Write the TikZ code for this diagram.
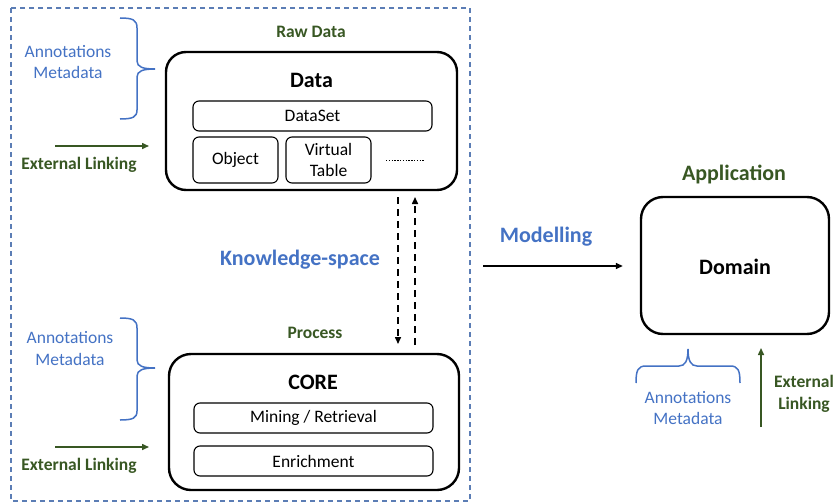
\documentclass[tikz,border=0pt]{standalone}
\usepackage{fontspec}
\setmainfont{Carlito}
\usetikzlibrary{arrows.meta}
\definecolor{ablue}{HTML}{4472C4}
\definecolor{agreen}{HTML}{385723}
\definecolor{bordercol}{HTML}{5B7DB5}
\tikzset{
  bigbox/.style={draw=black, line width=2.4pt, rounded corners=20pt},
  smallbox/.style={draw=black, line width=1.1pt, rounded corners=6pt, align=center, font=\fontsize{17.5}{19}\selectfont},
  bluetxt/.style={text=ablue, align=center, font=\fontsize{17.5}{21.5}\selectfont},
  greentxt/.style={text=agreen, align=center, font=\bfseries\fontsize{17.5}{21.5}\selectfont},
  headtxt/.style={font=\bfseries\fontsize{22}{26}\selectfont},
  bracecol/.style={draw=ablue, line width=1.5pt},
  greenarrow/.style={draw=agreen, line width=1.5pt, -{Triangle[length=7pt,width=6pt]}},
  dasharrow/.style={draw=black, line width=1.5pt, dash pattern=on 7pt off 5pt, -{Triangle[length=7pt,width=6pt]}},
}
\begin{document}
\begin{tikzpicture}[x=1pt,y=-1pt]
\useasboundingbox (0,0) rectangle (837,503);
% outer dashed frame
\draw[bordercol, line width=1.3pt, dash pattern=on 5pt off 4pt] (11,8) rectangle (470,501);

% Data block
\node[bigbox, minimum width=291pt, minimum height=138pt] (data) at (311.5,121) {};
\node[headtxt] (datat) at (311.5,80) {Data};
\node[smallbox, minimum width=239pt, minimum height=30pt] (dataset) at (312.5,116) {DataSet};
\node[smallbox, minimum width=85pt, minimum height=46pt] (object) at (235.5,160) {Object};
\node[smallbox, minimum width=85pt, minimum height=46pt, font=\fontsize{17.5}{21}\selectfont] (vtable) at (328.5,160) {Virtual\\Table};
\coordinate (dots1) at (386,160);
\coordinate (dots2) at (425,160);
\draw[line width=0.8pt, dash pattern=on 1.4pt off 1.4pt] (dots1) -- (dots2);
\node[greentxt] (rawdata) at (311,32) {Raw Data};

% CORE block
\node[bigbox, rounded corners=22pt, minimum width=290pt, minimum height=136pt] (core) at (314,422) {};
\node[headtxt] (coret) at (313,382) {CORE};
\node[smallbox, minimum width=239pt, minimum height=30pt] (mining) at (313.5,418) {Mining / Retrieval};
\node[smallbox, minimum width=239pt, minimum height=30pt] (enrich) at (313.5,461) {Enrichment};
\node[greentxt] (process) at (315,333) {Process};

% knowledge space arrows
\coordinate (d1) at (398,197);
\coordinate (d2) at (398,344);
\coordinate (u1) at (415,345);
\coordinate (u2) at (415,197);
\draw[dasharrow] (d1) -- (d2);
\draw[dasharrow] (u1) -- (u2);
\node[headtxt, text=ablue] (kspace) at (300,260) {Knowledge-space};

% left annotations top
\node[bluetxt] (ann1) at (68,62) {Annotations\\Metadata};
\draw[bracecol] (120,18) .. controls (133,18) and (137,20) .. (137,28) -- (137,61)
  .. controls (137,67) and (143,69) .. (155,69)
  .. controls (143,69) and (137,71) .. (137,77) -- (137,110)
  .. controls (137,117) and (133,119) .. (120,119);
\coordinate (el1a) at (55,146);
\coordinate (el1b) at (149,146);
\draw[greenarrow] (el1a) -- (el1b);
\node[greentxt] (ext1) at (79,165) {External Linking};

% left annotations bottom
\node[bluetxt] (ann2) at (70,348.5) {Annotations\\Metadata};
\draw[bracecol] (120,318) .. controls (133,318) and (137,320) .. (137,328) -- (137,360)
  .. controls (137,366) and (143,368) .. (155,368)
  .. controls (143,368) and (137,370) .. (137,376) -- (137,411)
  .. controls (137,418) and (133,420) .. (120,420);
\coordinate (el2a) at (55,447);
\coordinate (el2b) at (149,447);
\draw[greenarrow] (el2a) -- (el2b);
\node[greentxt] (ext2) at (79,466) {External Linking};

% Modelling
\coordinate (m1) at (483,266);
\node[bigbox, rounded corners=22pt, minimum width=188pt, minimum height=137pt] (domain) at (735,265.5) {};
\node[headtxt] (domaint) at (735,267) {Domain};
\draw[line width=1.5pt, -{Triangle[length=7pt,width=6pt]}, shorten >=17pt] (m1) -- (domain.west |- m1);
\node[headtxt, text=ablue] (model) at (546,237) {Modelling};
\node[headtxt, text=agreen] (app) at (734,174) {Application};

% right annotations
\draw[bracecol] (636,383) .. controls (636,370) and (638,366) .. (646,366) -- (679,366)
  .. controls (685,366) and (688,361) .. (688,349)
  .. controls (688,361) and (691,366) .. (697,366) -- (730,366)
  .. controls (738,366) and (740,370) .. (740,383);
\node[bluetxt] (ann3) at (688,408) {Annotations\\Metadata};
\coordinate (el3a) at (761,427);
\coordinate (el3b) at (761,348);
\draw[greenarrow] (el3a) -- (el3b);
\node[greentxt] (ext3) at (804,394) {External\\Linking};
\end{tikzpicture}
\end{document}
